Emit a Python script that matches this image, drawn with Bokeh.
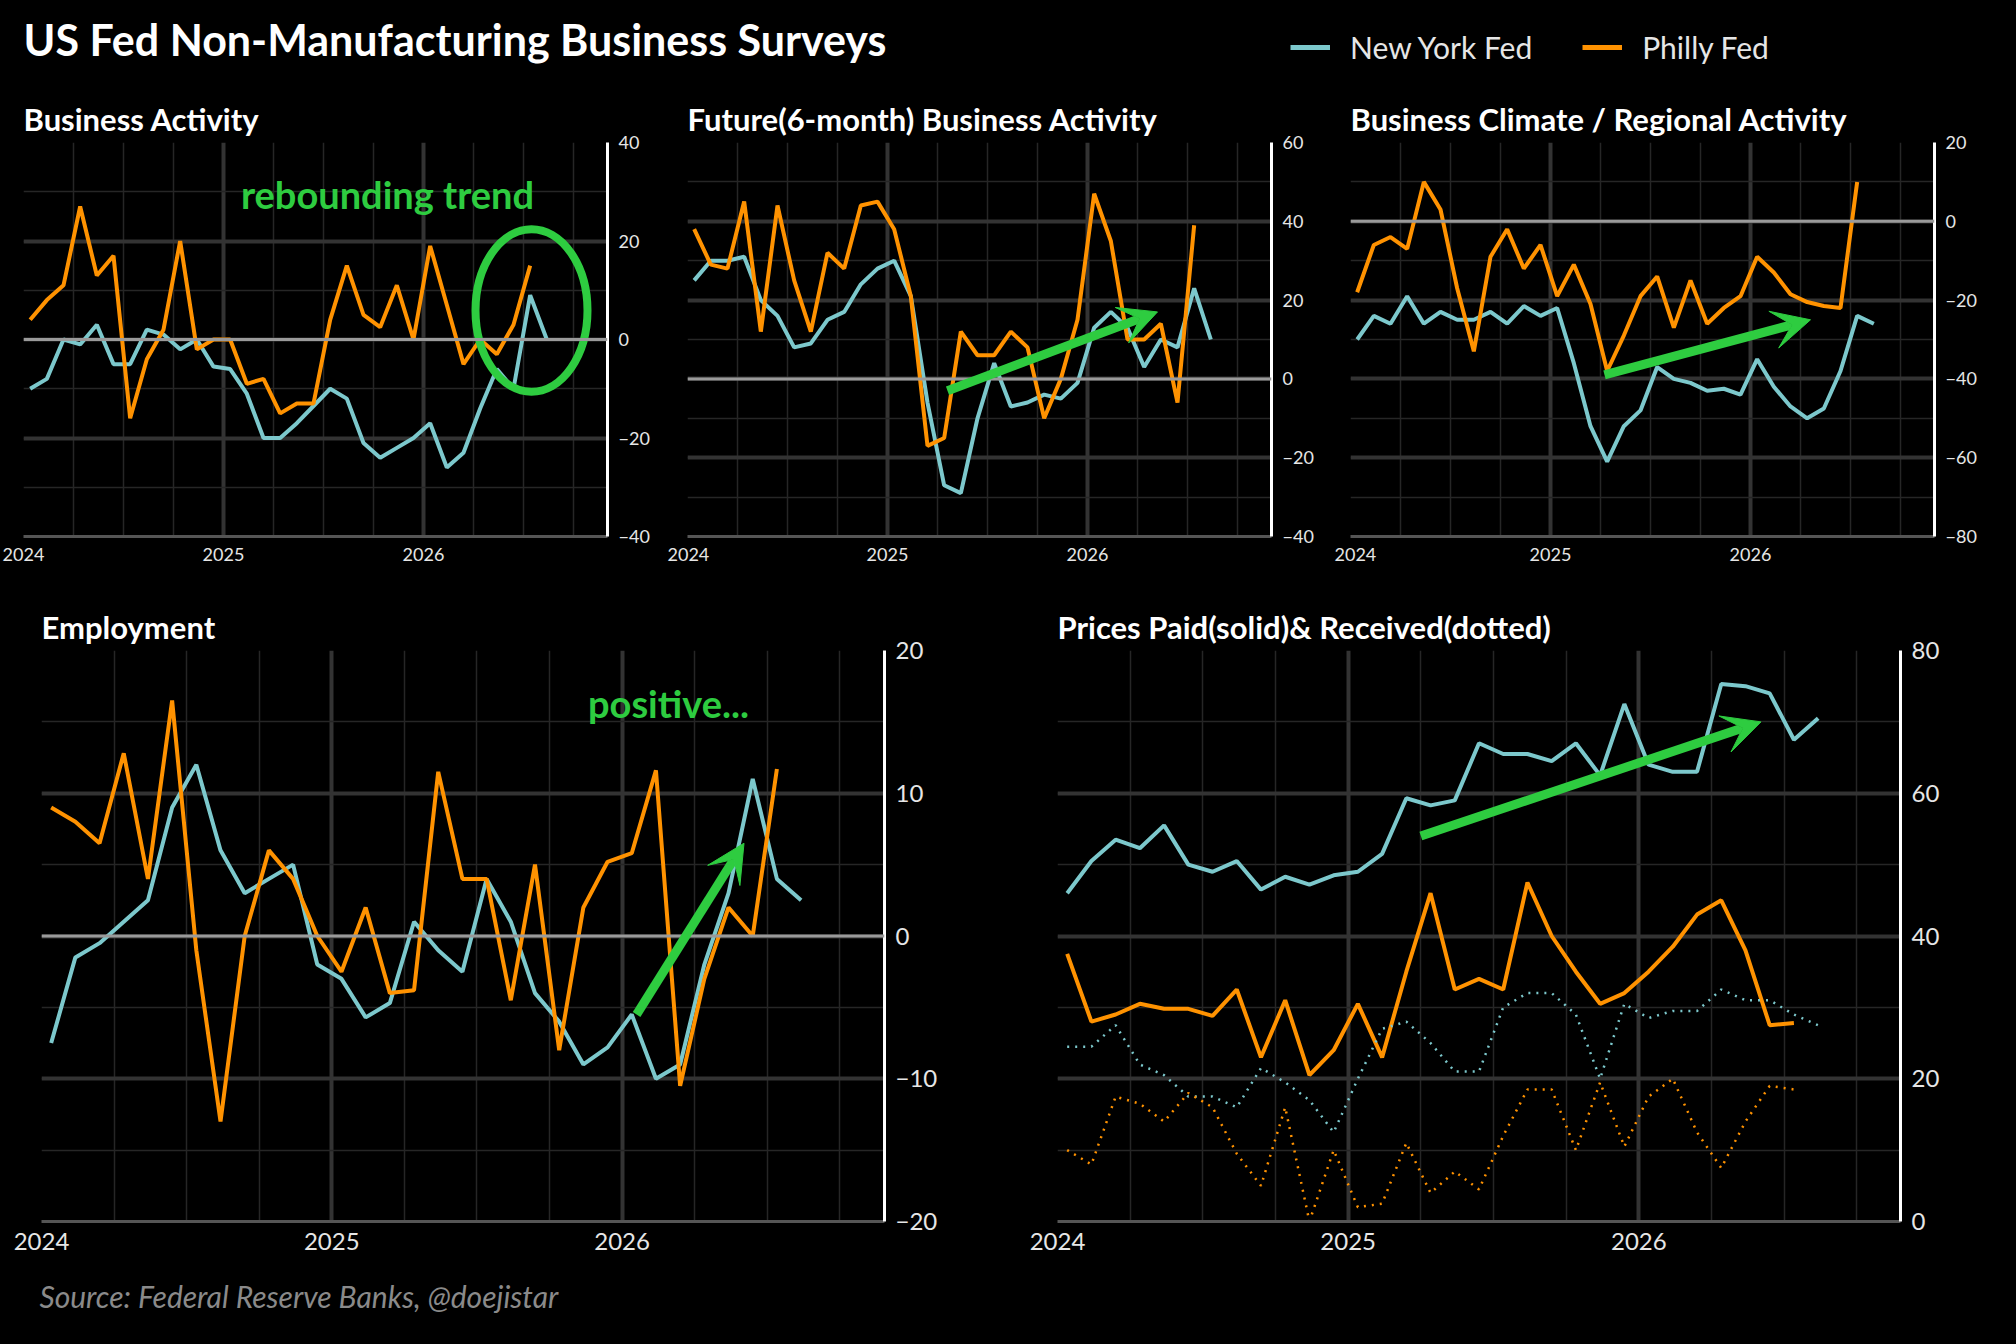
from bokeh.plotting import figure
from bokeh.models import (Range1d, FixedTicker, Span, Arrow, VeeHead, Label, Legend, LegendItem)
from bokeh.layouts import column, row
from bokeh.embed import file_html
from bokeh.resources import INLINE
from bokeh.core.properties import value

# ---------------- data (monthly, starting Jan 2024) ----------------
ba_ny = [-10, -8, 0, -1, 3, -5, -5, 2, 1, -2, 0, -5.5, -6, -11, -20, -20, -17, -13.5, -10, -12,
         -21, -24, -22, -20, -17, -26, -23, -14, -6, -10, 9, 0]
ba_ph = [4, 8, 11, 27, 13, 17, -16, -4, 2, 20, -2, 0, 0, -9, -8, -15, -13, -13, 4, 15,
         5, 2.5, 11, 0, 19, 7, -5, 0, -3, 3, 15]
fut_ny = [25, 30, 30, 31, 20, 16, 8, 9, 15, 17, 24, 28, 30, 21, -6, -27, -29, -10, 4, -7,
          -6, -4, -5, -1, 13, 17, 13, 3, 10, 8, 23, 10]
fut_ph = [38, 29, 28, 45, 12, 44, 25, 12, 32, 28, 44, 45, 38, 21, -17, -15, 12, 6, 6, 12,
          8, -10, 0, 15, 47, 35, 10, 10, 14, -6, 39]
clim_ny = [-30, -24, -26, -19, -26, -23, -25, -25, -23, -26, -21.5, -24, -22, -36, -52, -61,
           -52, -48, -37, -40, -41, -43, -42.5, -44, -35, -42, -47, -50, -47.5, -38, -24, -26]
clim_ph = [-18, -6, -4, -7, 10, 3, -17, -33, -9, -2, -12, -6, -19, -11, -21, -38, -29, -19,
           -14, -27, -15, -26, -22, -19, -9, -13, -18.5, -20.5, -21.5, -22, 10]
emp_ny = [-7.5, -1.5, -0.5, 1, 2.5, 9, 12, 6, 3, 4, 5, -2, -3, -5.7, -4.7, 1, -1, -2.5, 4, 1,
          -4, -6, -9, -7.8, -5.5, -10, -9, -2, 3, 11, 4, 2.5]
emp_ph = [9, 8, 6.5, 12.8, 4, 16.5, -1, -13, 0, 6, 4, 0, -2.5, 2, -4, -3.8, 11.5, 4, 4, -4.5,
          5, -8, 2, 5.2, 5.8, 11.6, -10.5, -3, 2, 0, 11.7]
pp_ny = [46, 50.5, 53.5, 52.3, 55.5, 50, 49, 50.5, 46.5, 48.3, 47.2, 48.5, 49, 51.5, 59.3, 58.3,
         59, 67, 65.5, 65.5, 64.5, 67, 62.5, 72.5, 64, 63, 63, 75.3, 75, 74, 67.5, 70.5]
pp_ph = [37.5, 28, 29, 30.5, 29.8, 29.8, 28.8, 32.5, 23, 31, 20.5, 24, 30.5, 23, 35, 46, 32.5, 34,
         32.5, 47.5, 40, 35, 30.5, 32, 35, 38.5, 43, 45, 38, 27.5, 27.8]
pr_ny = [24.5, 24.5, 27.5, 22, 20.5, 17.5, 17.5, 16, 21.5, 19.5, 17, 12.5, 20, 27, 28, 25, 21, 21,
         30, 32, 32, 29, 20, 30.5, 28.5, 29.5, 29.5, 32.5, 31, 31, 29, 27.5]
pr_ph = [10, 8, 17.5, 16.5, 14, 18, 16, 9.5, 5, 16, 0, 10, 2, 2.5, 11, 4, 7, 4.5, 12, 18.5, 18.5,
         10, 19.5, 10.5, 17.5, 20, 12.5, 7.5, 14, 19, 18.5]
year_ticks = [2024, 2025, 2026]
START_YEAR = 2024

TEAL = "#7cc8cc"
ORANGE = "#ff9200"
GREEN = "#2ecc40"
FONT = "Lato"


def xs(vals):
    return [START_YEAR + (i + 0.4) / 12 for i in range(len(vals))]


def panel(w, h, title, yr, ymaj, ymin, xend, bl, br, bt, bb, tsize):
    p = figure(width=w, height=h, x_range=Range1d(2024, xend), y_range=Range1d(*yr),
               y_axis_location="right", output_backend="svg", toolbar_location=None,
               background_fill_color="black", border_fill_color="black",
               min_border_left=bl, min_border_top=bt, min_border_bottom=bb,
               min_border_right=br)
    p.outline_line_color = None
    p.title.text = title
    p.title.text_color = "white"
    p.title.text_font = FONT
    p.title.text_font_style = "bold"
    p.title.text_font_size = tsize
    quarters = [2024 + q / 4 for q in range(0, 12) if q % 4]
    p.xaxis.ticker = FixedTicker(ticks=year_ticks)
    p.xgrid.ticker = FixedTicker(ticks=year_ticks, minor_ticks=quarters)
    p.yaxis.ticker = FixedTicker(ticks=ymaj)
    p.ygrid.ticker = FixedTicker(ticks=ymaj, minor_ticks=ymin)
    for g in (p.xgrid, p.ygrid):
        g.grid_line_color = "#333333"
        g.grid_line_width = 4
        g.minor_grid_line_color = "#262626"
        g.minor_grid_line_width = 1.5
    for ax in (p.xaxis, p.yaxis):
        ax.major_tick_line_color = None
        ax.minor_tick_line_color = None
        ax.major_label_text_color = "#e6e6e6"
        ax.major_label_text_font = FONT
    p.xaxis.axis_line_color = "#555555"
    p.xaxis.axis_line_width = 3
    p.yaxis.axis_line_color = "white"
    p.yaxis.axis_line_width = 3
    return p


p1 = panel(667, 510, "Business Activity", (-40, 40), [-40, -20, 0, 20, 40],
           list(range(-30, 40, 10)), 2026.92, 23, 60, 67, 49, "31px")
p2 = panel(667, 510, "Future(6-month) Business Activity", (-40, 60), [-40, -20, 0, 20, 40, 60],
           list(range(-30, 60, 10)), 2026.92, 20, 63, 67, 49, "31px")
p3 = panel(666, 510, "Business Climate / Regional Activity", (-80, 20), [-80, -60, -40, -20, 0, 20],
           list(range(-70, 20, 10)), 2026.92, 16, 66, 67, 49, "31px")
for p, ny, ph in ((p1, ba_ny, ba_ph), (p2, fut_ny, fut_ph), (p3, clim_ny, clim_ph)):
    p.xaxis.major_label_text_font_size = "18px"
    p.yaxis.major_label_text_font_size = "18px"
    p.add_layout(Span(location=0, dimension="width", line_color="#9a9a9a", line_width=3))
    p.line(xs(ny), ny, line_color=TEAL, line_width=4)
    p.line(xs(ph), ph, line_color=ORANGE, line_width=4)

p1.add_layout(Label(x=2025.82, y=29.6, text="rebounding trend", text_color=GREEN,
                    text_font=FONT, text_font_style="bold", text_font_size="38px",
                    text_align="center", text_baseline="middle"))
p1.ellipse(x=[2026.54], y=[5.9], width=[0.56], height=[33], fill_color=None,
           line_color=GREEN, line_width=8)
p2.add_layout(Arrow(x_start=2025.3, y_start=-3, x_end=2026.35, y_end=17, line_color=GREEN,
                    line_width=9, end=VeeHead(size=38, fill_color=GREEN, line_color=GREEN)))
p3.add_layout(Arrow(x_start=2025.27, y_start=-39, x_end=2026.3, y_end=-25, line_color=GREEN,
                    line_width=9, end=VeeHead(size=38, fill_color=GREEN, line_color=GREEN)))

p4 = panel(1000, 680, "Employment", (-20, 20), [-20, -10, 0, 10, 20], list(range(-15, 20, 5)),
           2026.904, 41, 116, 65, 44, "31px")
p4.add_layout(Span(location=0, dimension="width", line_color="#9a9a9a", line_width=3))
p4.line(xs(emp_ny), emp_ny, line_color=TEAL, line_width=4)
p4.line(xs(emp_ph), emp_ph, line_color=ORANGE, line_width=4)
p4.add_layout(Label(x=2026.16, y=16.3, text="positive...", text_color=GREEN, text_font=FONT,
                    text_font_style="bold", text_font_size="38px", text_align="center",
                    text_baseline="middle"))
p4.add_layout(Arrow(x_start=2026.05, y_start=-5.5, x_end=2026.42, y_end=6.5, line_color=GREEN,
                    line_width=9, end=VeeHead(size=38, fill_color=GREEN, line_color=GREEN)))

p5 = panel(1000, 680, "Prices Paid(solid)& Received(dotted)", (0, 80), [0, 20, 40, 60, 80],
           list(range(10, 80, 10)), 2026.90, 57, 100, 65, 44, "31px")
p5.line(xs(pp_ny), pp_ny, line_color=TEAL, line_width=4)
p5.line(xs(pp_ph), pp_ph, line_color=ORANGE, line_width=4)
p5.line(xs(pr_ny), pr_ny, line_color=TEAL, line_width=2.5, line_dash="2 6")
p5.line(xs(pr_ph), pr_ph, line_color=ORANGE, line_width=2.5, line_dash="2 6")
p5.add_layout(Arrow(x_start=2025.25, y_start=54, x_end=2026.42, y_end=70, line_color=GREEN,
                    line_width=9, end=VeeHead(size=38, fill_color=GREEN, line_color=GREEN)))
for p in (p4, p5):
    p.xaxis.major_label_text_font_size = "24px"
    p.yaxis.major_label_text_font_size = "24px"

hdr = figure(width=2000, height=75, x_range=Range1d(0, 2000), y_range=Range1d(0, 75),
             output_backend="svg", toolbar_location=None, background_fill_color="black",
             border_fill_color="black", min_border=0)
hdr.axis.visible = False
hdr.grid.visible = False
hdr.outline_line_color = None
hdr.text(x=[23], y=[36], text=["US Fed Non-Manufacturing Business Surveys"], text_color="white",
         text_font=value(FONT), text_font_style="bold", text_font_size="43px",
         text_baseline="middle")
r_ny = hdr.line(x=[-20, -10], y=[-20, -20], line_color=TEAL, line_width=5)
r_ph = hdr.line(x=[-20, -10], y=[-20, -20], line_color=ORANGE, line_width=5)
leg = Legend(items=[LegendItem(label="New York Fed", renderers=[r_ny]),
                    LegendItem(label="Philly Fed", renderers=[r_ph])],
             orientation="horizontal", location=(1290, 10), background_fill_alpha=0,
             border_line_color=None, label_text_color="#e6e6e6", label_text_font=FONT,
             label_text_font_size="30px", glyph_width=40, spacing=50, label_standoff=20)
hdr.add_layout(leg)

ftr = figure(width=2000, height=60, x_range=Range1d(0, 2000), y_range=Range1d(0, 60),
             output_backend="svg", toolbar_location=None, background_fill_color="black",
             border_fill_color="black", min_border=0)
ftr.axis.visible = False
ftr.grid.visible = False
ftr.outline_line_color = None
ftr.text(x=[39], y=[30], text=["Source:  Federal Reserve Banks,  @doejistar"], text_color="#8a8a8a",
         text_font=value(FONT), text_font_style="italic", text_font_size="30px",
         text_baseline="middle")

layout = column(hdr, row(p1, p2, p3), row(p4, p5), ftr, styles={"background-color": "black"})
html = file_html(layout, INLINE)
html = html.replace("<body>", '<body style="background-color:black;">')
open("out.html", "w").write(html)
